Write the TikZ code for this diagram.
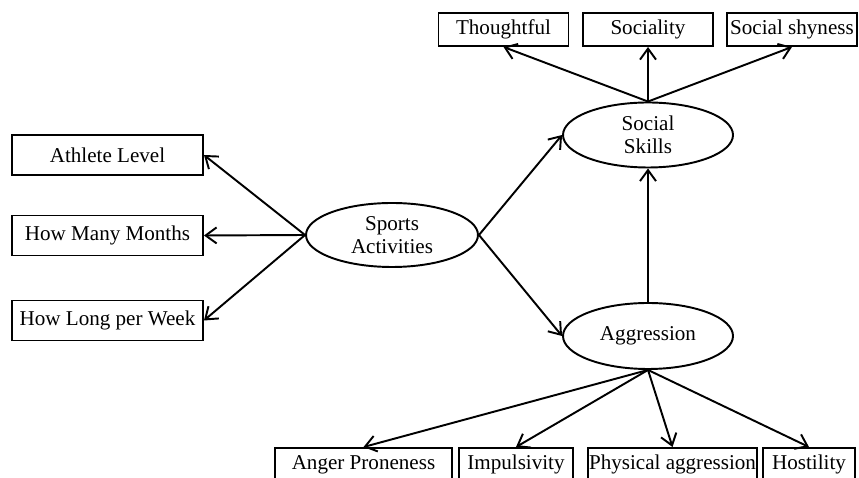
\documentclass[tikz,border=0pt]{standalone}
\usepackage{fontspec}
\setmainfont{Liberation Serif}
\usetikzlibrary{arrows.meta, shapes.geometric}
\tikzset{
  every node/.style={font=\fontsize{12}{13}\selectfont},
  link/.style={draw, line width=1.1pt, -{Straight Barb[length=2.2mm, width=3.2mm, line width=1.1pt]}},
  % Measured item (rectangle)
  item/.style={draw, line width=1.1pt, rectangle, inner sep=0pt, minimum height=0.66cm},
  wide item/.style={item, minimum width=3.82cm, minimum height=0.8cm},
  % Latent construct (ellipse)
  latent/.style={draw, line width=1.1pt, ellipse, inner sep=0pt, align=center,
                 minimum width=3.4cm, minimum height=1.3cm}
}

\begin{document}
\begin{tikzpicture}

  \useasboundingbox (0, 0) rectangle (17.18, 9.56);

  % ---- Latent constructs ---------------------------------------------------
  \node[latent, minimum width=3.44cm, minimum height=1.28cm] (Sports) at (7.84, 4.86) {Sports\\Activities};
  \node[latent] (Social) at (12.96, 6.86) {Social\\Skills};
  \node[latent, minimum height=1.32cm] (Aggr) at (12.96, 2.84) {Aggression};

  % ---- Sports indicators ---------------------------------------------------
  \node[wide item] (Athlete) at (2.15, 6.46) {Athlete Level};
  \node[wide item] (Months)  at (2.15, 4.85) {How Many Months};
  \node[wide item] (Week)    at (2.15, 3.15) {How Long per Week};

  % ---- Social skills indicators --------------------------------------------
  \node[item, minimum width=2.6cm] (Thoughtful) at (10.07, 8.97) {Thoughtful};
  \node[item, minimum width=2.6cm] (Sociality)  at (12.96, 8.97) {Sociality};
  \node[item, minimum width=2.6cm] (Shyness)    at (15.84, 8.97) {Social shyness};

  % ---- Aggression indicators -----------------------------------------------
  \node[item, minimum width=3.54cm] (Anger)    at (7.27, 0.27)  {Anger Proneness};
  \node[item, minimum width=2.28cm] (Impulse)  at (10.32, 0.27) {Impulsivity};
  \node[item, minimum width=3.38cm] (Physical) at (13.45, 0.27) {Physical aggression};
  \node[item, minimum width=1.84cm] (Hostile)  at (16.18, 0.27) {Hostility};

  % ---- Paths ---------------------------------------------------------------
  \draw[link] (Sports.west) -- (Athlete.east);
  \draw[link] (Sports.west) -- (Months.east);
  \draw[link] (Sports.west) -- (Week.east);

  \draw[link] (Sports.east) -- (Social.west);
  \draw[link] (Sports.east) -- (Aggr.west);
  \draw[link] (Aggr.north)  -- (Social.south);

  \draw[link] (Social.north) -- (Thoughtful.south);
  \draw[link] (Social.north) -- (Sociality.south);
  \draw[link] (Social.north) -- (Shyness.south);

  \draw[link] (Aggr.south) -- (Anger.north);
  \draw[link] (Aggr.south) -- (Impulse.north);
  \draw[link] (Aggr.south) -- (Physical.north);
  \draw[link] (Aggr.south) -- (Hostile.north);

\end{tikzpicture}
\end{document}
